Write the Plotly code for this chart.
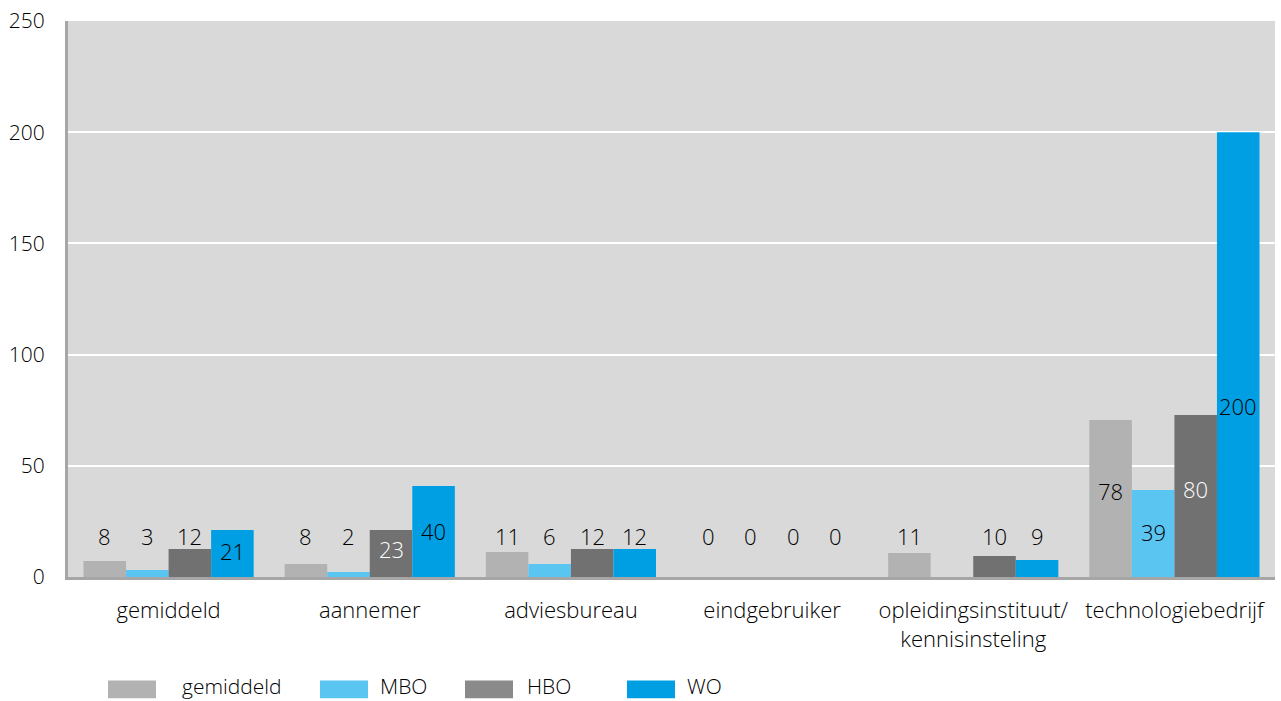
import plotly.graph_objects as go

categories = ["gemiddeld", "aannemer", "adviesbureau", "eindgebruiker",
              "opleidingsinstituut/<br>kennisinsteling", "technologiebedrijf"]
series_names = ["gemiddeld", "MBO", "HBO", "WO"]

# bar heights as drawn
gemiddeld_vals = [7.2, 5.8, 11.2, 0, 10.8, 70.6]
mbo_vals = [3.1, 2.2, 5.8, 0, 0, 39.1]
hbo_vals = [12.6, 21.1, 12.6, 0, 9.4, 72.8]
wo_vals = [21.1, 40.9, 12.6, 0, 7.6, 200]

# data labels as printed
gemiddeld_lbl = ["8", "8", "11", "0", "11", "78"]
mbo_lbl = ["3", "2", "6", "0", "", "39"]
hbo_lbl = ["12", "23", "12", "0", "10", "80"]
wo_lbl = ["21", "40", "12", "0", "9", "200"]

y_ticks = [0, 50, 100, 150, 200, 250]

values = [gemiddeld_vals, mbo_vals, hbo_vals, wo_vals]
labels = [gemiddeld_lbl, mbo_lbl, hbo_lbl, wo_lbl]
colors = ["#b2b2b2", "#5bc5f2", "#717171", "#009fe3"]
legend_colors = ["#b2b2b2", "#5bc5f2", "#8a8a8a", "#009fe3"]

FONT = "Open Sans"
WEIGHT = 300
TXT = "#000000"
BARGAP = 0.154
x = list(range(len(categories)))

fig = go.Figure()
for name, vals, col in zip(series_names, values, colors):
    fig.add_trace(go.Bar(x=x, y=vals, name=name, marker_color=col,
                         marker_line_width=0, showlegend=False))

# data labels
n = len(series_names)
w = (1 - BARGAP) / n
for i, (vals, lbls) in enumerate(zip(values, labels)):
    for k, (v, t) in enumerate(zip(vals, lbls)):
        if t == "":
            continue
        lv = float(t)
        inside = v >= 20
        if inside:
            ypos = min(0.47 * lv + 2, 77)
        else:
            ypos = 18.5
        color = "white" if (inside and series_names[i] == "HBO") else TXT
        fig.add_annotation(x=k + (i - (n - 1) / 2) * w, y=ypos, text=t,
                           showarrow=False, xanchor="center", yanchor="middle",
                           font=dict(family=FONT, size=22, color=color, weight=WEIGHT))

# custom legend (wide swatches) below the chart
L, R, T, B = 68, 6, 18, 124
pw = 1281 - L - R
ph = 701 - T - B
def px2x(px):
    return (px - L) / pw
def py2y(py):
    return (701 - B - py) / ph

sw_left = [108, 320, 465, 627]
txt_left = [180, 378, 525, 685]
for name, col, sl, tl in zip(series_names, legend_colors, sw_left, txt_left):
    fig.add_shape(type="rect", xref="paper", yref="paper",
                  x0=px2x(sl), x1=px2x(sl + 48), y0=py2y(699), y1=py2y(681),
                  fillcolor=col, line_width=0)
    fig.add_annotation(xref="paper", yref="paper", x=px2x(tl), y=py2y(687),
                       text=name, showarrow=False, xanchor="left", yanchor="middle",
                       font=dict(family=FONT, size=21, color=TXT, weight=WEIGHT))

fig.update_layout(
    width=1281, height=701,
    margin=dict(l=L, r=R, t=T, b=B),
    paper_bgcolor="white", plot_bgcolor="#d9d9d9",
    barmode="group", bargap=BARGAP, bargroupgap=0,
    font=dict(family=FONT, size=20, color=TXT, weight=WEIGHT),
)
fig.update_xaxes(
    tickmode="array", tickvals=x, ticktext=categories,
    range=[-0.5, len(categories) - 0.5],
    showgrid=False, showline=True, linecolor="#a6a6a6", linewidth=3,
    ticks="", ticklabelstandoff=12,
    tickfont=dict(family=FONT, size=22, color=TXT, weight=WEIGHT),
)
fig.update_yaxes(
    range=[0, 250], tickmode="array", tickvals=y_ticks,
    showgrid=True, gridcolor="white", gridwidth=2,
    showline=True, linecolor="#a6a6a6", linewidth=3,
    zeroline=False, ticks="", ticklabelstandoff=16,
    tickfont=dict(family=FONT, size=21, color=TXT, weight=WEIGHT),
)

fig.write_html("out.html")
